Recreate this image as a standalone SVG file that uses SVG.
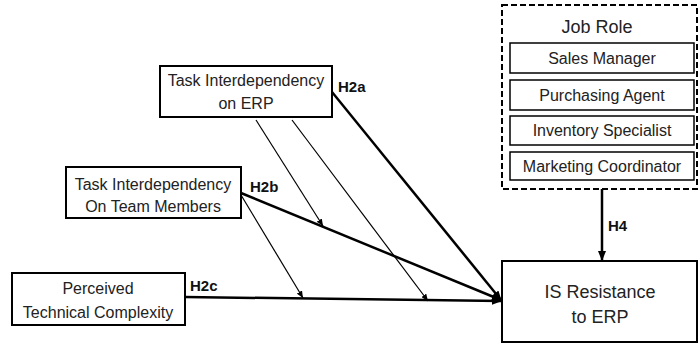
<svg xmlns="http://www.w3.org/2000/svg" width="700" height="345" viewBox="0 0 700 345">
<style>
text{font-family:"Liberation Sans",Arial,sans-serif;fill:#222;text-anchor:middle}
.t{font-size:16px}
.big{font-size:18px}
.h{font-size:15px;font-weight:bold;text-anchor:start;fill:#111}
.box{fill:#fff;stroke:#000;stroke-width:2}
.sub{fill:#fff;stroke:#000;stroke-width:1.5}
.main{stroke:#000;stroke-width:2.5;fill:none}
.thin{stroke:#000;stroke-width:1.2;fill:none}
</style>
<defs>
<marker id="ah" markerWidth="10" markerHeight="8" refX="9" refY="4" orient="auto" markerUnits="userSpaceOnUse"><path d="M0,0 L10,4 L0,8 Z" fill="#000"/></marker>
<marker id="as" markerWidth="7" markerHeight="6" refX="7" refY="3" orient="auto" markerUnits="userSpaceOnUse"><path d="M0,0 L7,3 L0,6 Z" fill="#000"/></marker>
</defs>
<g id="connectors">
<line class="main" x1="332" y1="92" x2="501" y2="300" marker-end="url(#ah)"/>
<line class="main" x1="241" y1="193" x2="501" y2="300" marker-end="url(#ah)"/>
<line class="main" x1="185" y1="297" x2="501" y2="301" marker-end="url(#ah)"/>
<line class="thin" x1="256" y1="120" x2="323" y2="226" marker-end="url(#as)"/>
<line class="thin" x1="292" y1="120" x2="428" y2="301" marker-end="url(#as)"/>
<line class="thin" x1="241" y1="195" x2="303" y2="298" marker-end="url(#as)"/>
<line class="main" x1="602" y1="189" x2="602" y2="260" stroke-width="2" marker-end="url(#ah)"/>
<text class="h" x="338" y="92">H2a</text>
<text class="h" x="250" y="192">H2b</text>
<text class="h" x="190" y="291">H2c</text>
<text class="h" x="608" y="231">H4</text>
</g>
<g id="ti-erp">
<rect class="box" x="160" y="66" width="172" height="51"/>
<text class="t" x="246" y="86">Task Interdependency</text>
<text class="t" x="246" y="109">on ERP</text>
</g>
<g id="ti-team">
<rect class="box" x="66" y="167" width="175" height="51"/>
<text class="t" x="153" y="190">Task Interdependency</text>
<text class="t" x="153" y="212">On Team Members</text>
</g>
<g id="ptc">
<rect class="box" x="12" y="273" width="173" height="52"/>
<text class="t" x="98" y="294">Perceived</text>
<text class="t" x="98" y="318">Technical Complexity</text>
</g>
<g id="job-role">
<rect x="502" y="5" width="195" height="184" fill="#fff" stroke="#000" stroke-width="2" stroke-dasharray="6,3"/>
<text class="big" x="597" y="33">Job Role</text>
<rect class="sub" x="510" y="43" width="184" height="30"/>
<text class="t" x="602" y="64">Sales Manager</text>
<rect class="sub" x="510" y="80" width="184" height="30"/>
<text class="t" x="602" y="101">Purchasing Agent</text>
<rect class="sub" x="510" y="116" width="184" height="29"/>
<text class="t" x="602" y="136">Inventory Specialist</text>
<rect class="sub" x="510" y="152" width="184" height="28"/>
<text class="t" x="602" y="172">Marketing Coordinator</text>
</g>
<g id="is-resistance">
<rect class="box" x="502" y="261" width="195" height="81"/>
<text class="big" x="600" y="298">IS Resistance</text>
<text class="big" x="600" y="323">to ERP</text>
</g>
</svg>
